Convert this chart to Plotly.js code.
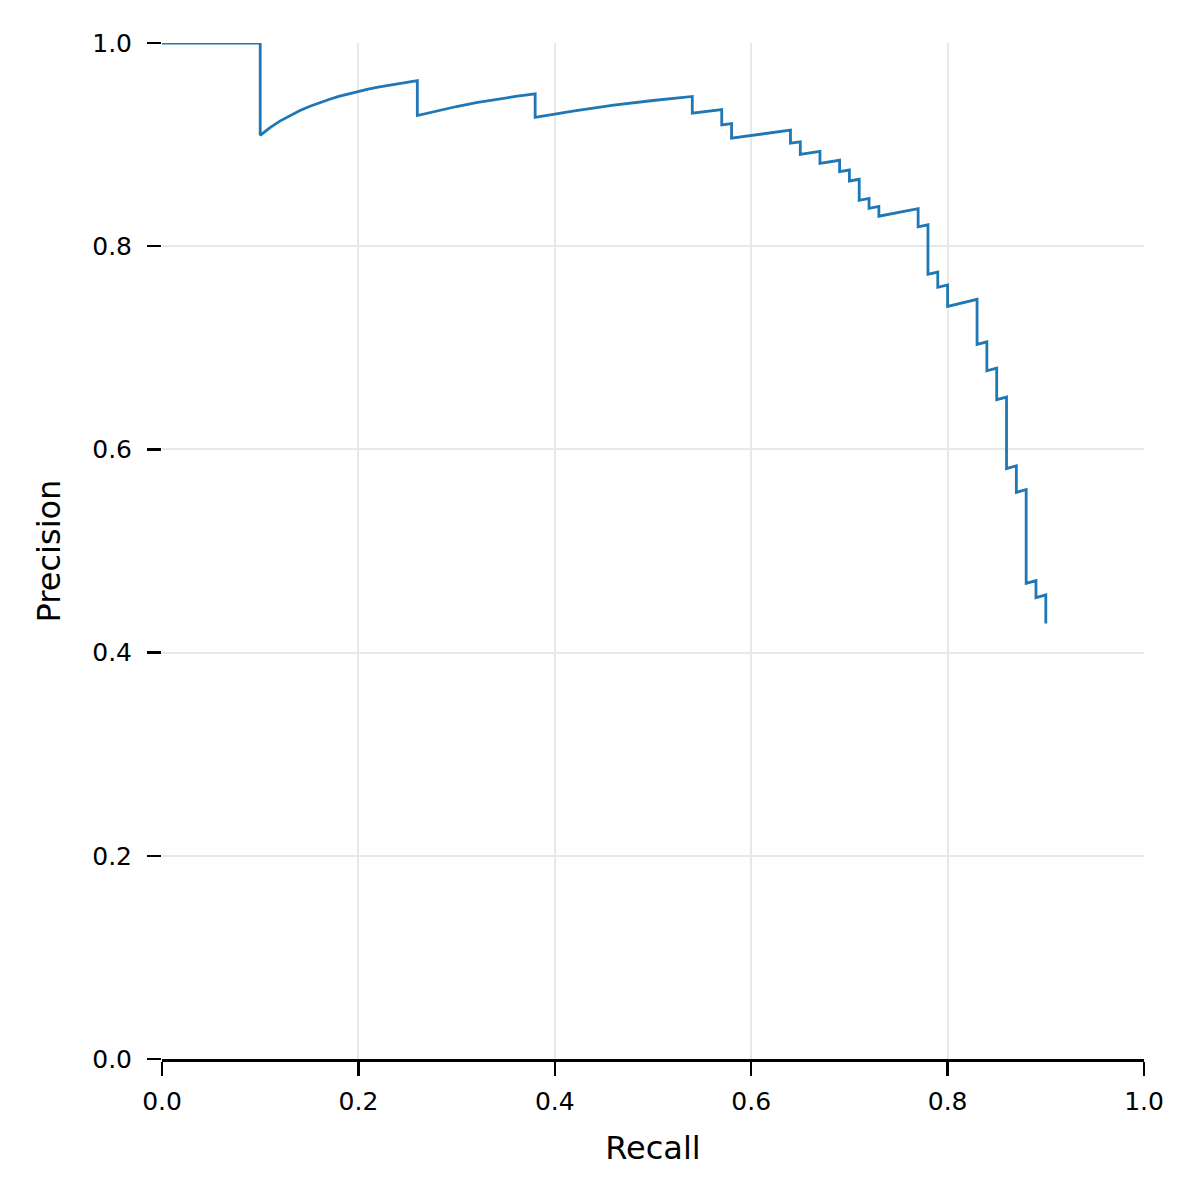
<!DOCTYPE html>
<html>
<head>
<meta charset="utf-8">
<script src="https://cdn.plot.ly/plotly-3.0.1.min.js"></script>
<style>
  html, body { margin: 0; padding: 0; background: #ffffff; }
  #chart { width: 1200px; height: 1200px; }
</style>
</head>
<body>
<div id="chart"></div>
<script>
// precision-recall curve, vertices
const recall = [
    0.00, 0.10,
    0.10, 0.11, 0.12, 0.13, 0.14, 0.15, 0.16, 0.17, 0.18, 0.19, 0.20,
    0.21, 0.22, 0.23, 0.24, 0.25, 0.26,
    0.26, 0.28, 0.30, 0.32, 0.34, 0.36, 0.38,
    0.38, 0.42, 0.46, 0.50, 0.54,
    0.54, 0.57,
    0.57, 0.58,
    0.58, 0.61, 0.64,
    0.64, 0.65,
    0.65, 0.67,
    0.67, 0.69,
    0.69, 0.70,
    0.70, 0.71,
    0.71, 0.72,
    0.72, 0.73,
    0.73, 0.77,
    0.77, 0.78,
    0.78, 0.79,
    0.79, 0.80,
    0.80, 0.83,
    0.83, 0.84,
    0.84, 0.85,
    0.85, 0.86,
    0.86, 0.87,
    0.87, 0.88,
    0.88, 0.89,
    0.89, 0.90,
    0.90
];
const precision = [
    1.0000, 1.0000,
    0.9091, 0.9167, 0.9231, 0.9286, 0.9333, 0.9375, 0.9412, 0.9444, 0.9474, 0.9500, 0.9524,
    0.9545, 0.9565, 0.9583, 0.9600, 0.9615, 0.9630,
    0.9286, 0.9333, 0.9375, 0.9412, 0.9444, 0.9474, 0.9500,
    0.9268, 0.9333, 0.9388, 0.9434, 0.9474,
    0.9310, 0.9344,
    0.9194, 0.9206,
    0.9063, 0.9104, 0.9143,
    0.9014, 0.9028,
    0.8904, 0.8933,
    0.8816, 0.8846,
    0.8734, 0.8750,
    0.8642, 0.8659,
    0.8452, 0.8471,
    0.8372, 0.8391,
    0.8295, 0.8370,
    0.8191, 0.8211,
    0.7723, 0.7745,
    0.7596, 0.7619,
    0.7407, 0.7477,
    0.7034, 0.7059,
    0.6774, 0.6800,
    0.6489, 0.6515,
    0.5811, 0.5839,
    0.5577, 0.5605,
    0.4681, 0.4709,
    0.4541, 0.4569,
    0.4286
];
const tickVals = [0, 0.2, 0.4, 0.6, 0.8, 1.0];
const tickText = ['0.0', '0.2', '0.4', '0.6', '0.8', '1.0'];

const font = 'DejaVu Sans, sans-serif';

let data = [
    {
        x: recall,
        y: precision,
        type: 'scatter',
        mode: 'lines',
        cliponaxis: false,
        line: {
            color: '#1f77b4',
            width: 2.8
        },
        hoverinfo: 'skip'
    }
];

let layout = {
    width: 1200,
    height: 1200,
    showlegend: false,
    paper_bgcolor: '#ffffff',
    plot_bgcolor: '#ffffff',
    font: { family: font, color: '#000000', size: 25 },
    margin: { l: 162, r: 56, t: 43, b: 141, pad: 0 },
    xaxis: {
        range: [0, 1],
        tickvals: tickVals,
        ticktext: tickText,
        ticks: 'outside',
        ticklen: 14,
        tickwidth: 2.5,
        tickcolor: '#000000',
        showline: true,
        linecolor: '#000000',
        linewidth: 2.5,
        showgrid: true,
        gridcolor: '#e8e8e8',
        gridwidth: 2,
        zeroline: false,
        tickfont: { family: font, size: 25 },
        ticklabelstandoff: 4,
        title: { text: 'Recall', font: { family: font, size: 32 }, standoff: 22 },
        automargin: false
    },
    yaxis: {
        range: [0, 1],
        tickvals: tickVals,
        ticktext: tickText,
        ticks: 'outside',
        ticklen: 14,
        tickwidth: 2.5,
        tickcolor: '#000000',
        showline: false,
        showgrid: true,
        gridcolor: '#e8e8e8',
        gridwidth: 2,
        zeroline: false,
        tickfont: { family: font, size: 25 },
        ticklabelstandoff: 10,
        title: { text: 'Precision', font: { family: font, size: 32 }, standoff: 22 },
        automargin: false
    }
};

Plotly.newPlot('chart', data, layout, { staticPlot: true, displayModeBar: false });
</script>
</body>
</html>
